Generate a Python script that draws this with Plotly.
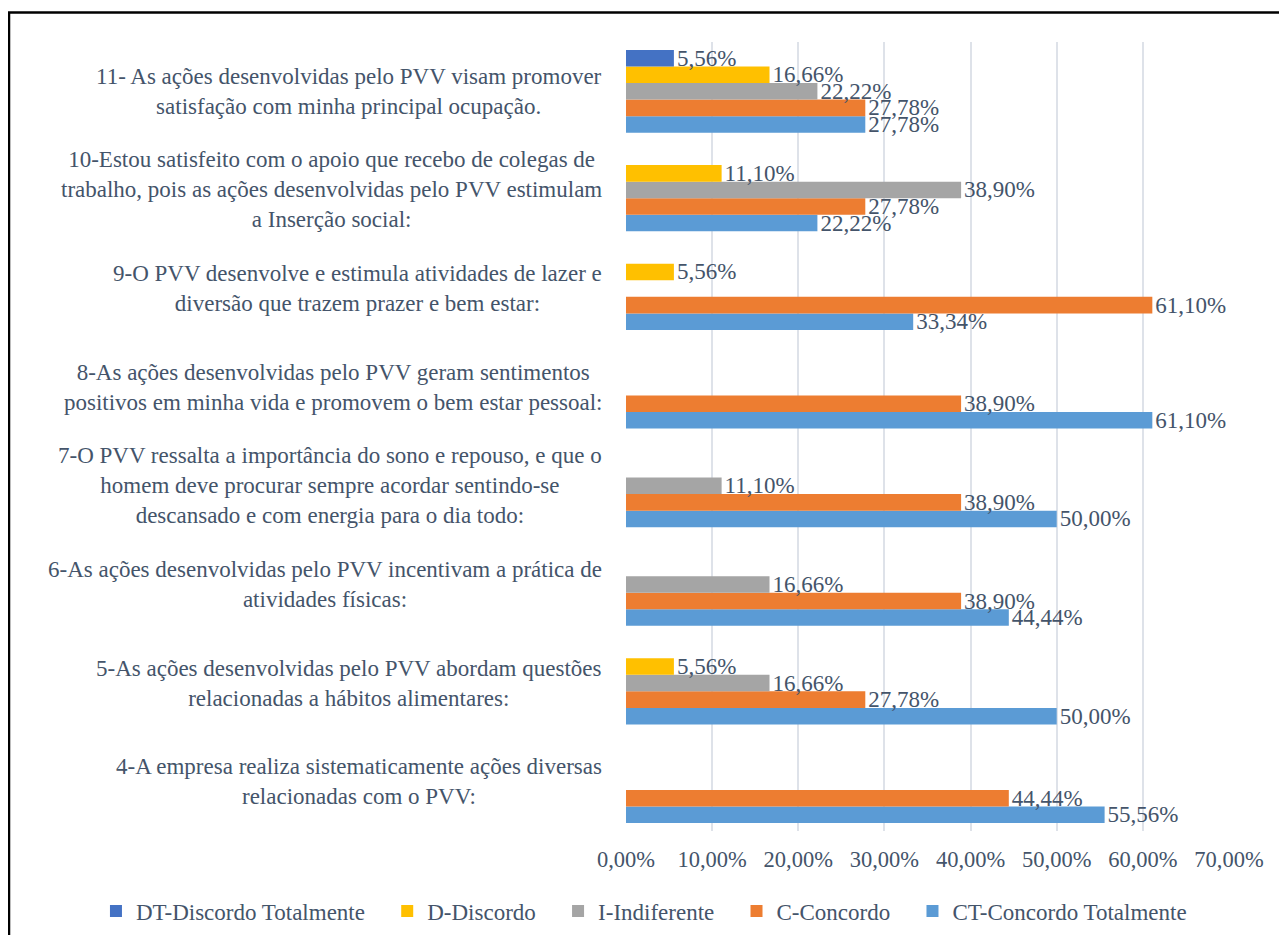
import plotly.graph_objects as go

# ---- data ----
categories = ["Q4", "Q5", "Q6", "Q7", "Q8", "Q9", "Q10", "Q11"]
category_labels = [
    "4-A empresa realiza sistematicamente ações diversas<br>relacionadas com o PVV:",
    "5-As ações desenvolvidas pelo PVV abordam questões<br>relacionadas a hábitos alimentares:",
    "6-As ações desenvolvidas pelo PVV incentivam a prática de<br>atividades físicas:",
    "7-O PVV ressalta a importância do sono e repouso, e que o<br>homem deve procurar sempre acordar sentindo-se<br>descansado e com energia para o dia todo:",
    "8-As ações desenvolvidas pelo PVV geram sentimentos<br>positivos em minha vida e promovem o bem estar pessoal:",
    "9-O PVV desenvolve e estimula atividades de lazer e<br>diversão que trazem prazer e bem estar:",
    "10-Estou satisfeito com o apoio que recebo de colegas de<br>trabalho, pois as ações desenvolvidas pelo PVV estimulam<br>a Inserção social:",
    "11- As ações desenvolvidas pelo PVV visam promover<br>satisfação com minha principal ocupação.",
]
# values in percent, None = no bar
dt_discordo_totalmente = [None, None, None, None, None, None, None, 5.56]
d_discordo = [None, 5.56, None, None, None, 5.56, 11.10, 16.66]
i_indiferente = [None, 16.66, 16.66, 11.10, None, None, 38.90, 22.22]
c_concordo = [44.44, 27.78, 38.90, 38.90, 38.90, 61.10, 27.78, 27.78]
ct_concordo_totalmente = [55.56, 50.00, 44.44, 50.00, 61.10, 33.34, 22.22, 27.78]

series_names = ["CT-Concordo Totalmente", "C-Concordo", "I-Indiferente", "D-Discordo", "DT-Discordo Totalmente"]
series_values = [ct_concordo_totalmente, c_concordo, i_indiferente, d_discordo, dt_discordo_totalmente]
series_colors = ["#5B9BD5", "#ED7D31", "#A5A5A5", "#FFC000", "#4472C4"]

x_ticks = [0, 10, 20, 30, 40, 50, 60, 70]
x_tick_labels = ["0,00%", "10,00%", "20,00%", "30,00%", "40,00%", "50,00%", "60,00%", "70,00%"]

TEXT = "#44546A"
FONT = "Liberation Serif, Times New Roman, Tinos, DejaVu Serif, serif"
PAD = "\u00a0\u00a0\u00a0"  # spacing after legend entries

fig = go.Figure()
for name, vals, col in zip(series_names, series_values, series_colors):
    fig.add_trace(go.Bar(
        y=categories, x=vals, name=name + PAD, orientation="h",
        marker=dict(color=col, line=dict(width=0)),
        texttemplate="%{x:.2f}%", textposition="outside",
        textfont=dict(family=FONT, size=23, color=TEXT),
        constraintext="none", cliponaxis=False,
    ))

for cat, lab in zip(categories, category_labels):
    fig.add_annotation(
        x=-0.0365, xref="paper", y=cat, yref="y",
        text=lab, showarrow=False, xanchor="right", yanchor="middle",
        align="center", font=dict(family=FONT, size=23, color=TEXT),
    )

# chart border (left and top visible)
fig.add_shape(type="rect", xref="paper", yref="paper",
              x0=-1.0232, x1=1.12, y0=-0.3, y1=1.0374,
              line=dict(color="black", width=2.5), fillcolor="rgba(0,0,0,0)", layer="below")

fig.update_layout(
    width=1271, height=927,
    margin=dict(l=618, r=50, t=34, b=104, autoexpand=False),
    paper_bgcolor="white", plot_bgcolor="white",
    barmode="group", bargap=0.16, bargroupgap=0,
    separators=",.",
    font=dict(family=FONT, size=22, color=TEXT),
    xaxis=dict(range=[0, 70], tickmode="array", tickvals=x_ticks, ticktext=x_tick_labels,
               showgrid=True, gridcolor="#DEE2E9", gridwidth=1.5, zeroline=False,
               showline=False, ticks="outside", ticklen=8, tickcolor="rgba(0,0,0,0)",
               automargin=False,
               tickfont=dict(family=FONT, size=22.5, color=TEXT)),
    yaxis=dict(type="category", categoryorder="array", categoryarray=categories,
               range=[-0.5, 7.5], showticklabels=False, automargin=False,
               showgrid=False, zeroline=False, showline=False, ticks=""),
    legend=dict(orientation="h", x=-0.879, xanchor="left",
                y=-0.0742, yanchor="top",
                traceorder="reversed", font=dict(family=FONT, size=23, color=TEXT)),
    showlegend=True,
)

fig.write_html("out.html")
